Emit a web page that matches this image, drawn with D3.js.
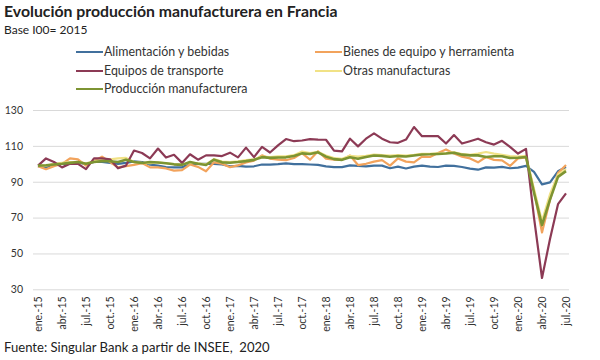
<!DOCTYPE html>
<html><head><meta charset="utf-8">
<script src="https://cdn.jsdelivr.net/npm/d3@7"></script>
<style>
body{margin:0;background:#fff;}
svg{font-family:Lato,"Open Sans",sans-serif;}
</style></head><body>
<script>
const monthNames = ["ene.","feb.","mar.","abr.","may.","jun.","jul.","ago.","sep.","oct.","nov.","dic."];
const years = [15,16,17,18,19,20];
const categories = [];
years.forEach(y => monthNames.forEach(m => categories.push(m + "-" + y)));
categories.splice(67);

const alimentacion = [98.7,98,100,100,100,100.6,100,101,101,100.5,100,100.5,101.3,101,99.5,99,98.2,98,98,100,100,100,100,99.6,98.6,98.8,98.4,98.6,99.6,99.5,99.8,100.2,99.8,99.8,99.6,99.4,98.6,98.1,98.1,99.1,98.8,98.6,99,99,97.5,98.4,97.4,98.4,99,98.4,98.2,99,98.8,98.2,97.3,96.7,98,97.9,98.3,97.5,97.9,98.8,95.5,88.5,89.6,95.8,98.2];
const bienesEquipo = [98.7,97,98.7,100,103,102.5,99,101.5,104,101,98,98.7,99.4,100.4,98,98,97.4,96.2,96.5,99.6,98.3,95.8,100.8,100,98.1,99.1,100.7,101.8,104.7,102.9,102.3,102,103.2,106,102.3,107,102.9,102.3,102.2,104.6,99.3,100,101.2,102,99,103,101.2,100.8,104,103.8,106,108,105.7,104,103,100.8,103.8,102.2,101.9,98.8,103,103.6,85,61.7,80,94.8,99.3];
const transporte = [99,103,101,98,100,100,97,103,103,102.5,97.5,99,107.4,106,103,108.5,103.5,105,100.5,105.3,102.3,104.7,104.7,104.3,106.2,103.6,109,103.7,109.4,106.3,110.3,113.8,112.6,113,113.8,113.5,113.4,107.3,106.9,114,109.7,114,117,114,112,111.7,113.5,120.5,115.4,115.4,115.4,111.3,116,111.3,112.6,114,112,110.7,112.8,109.4,105.7,108.3,70,36.3,58,77.5,83.5];
const otras = [99,99,100,100.5,101,101,100.3,101.3,102,102.5,103,103.3,101,100.5,100.3,100.8,100.3,99.8,99.6,100.6,100.3,99.7,102.6,101.2,101,101.4,102,102.5,104,103.7,104.2,104.2,104.8,106.8,106,106.6,104.6,103.2,102.8,104.5,104,104.5,105.1,104.8,104.6,104.8,104.6,105,105.5,105.6,105.8,106,106.4,105.4,105,105.7,106.6,105.7,105,104.3,104,104.5,86,68,83,94,97];
const produccion = [99,99.2,99.6,100,100.5,101,100,101,101.5,101.4,101,102.3,101,100.4,101,100.7,100.3,99.7,99.4,101,100,99.3,102.3,100.8,100.6,101,101.5,102.2,103.7,103.3,103.5,103.6,104.3,105.8,105.5,106.4,104,102.6,102.2,103.6,102.8,103.8,104.6,104.4,103.9,104.3,104.1,104.6,105.2,105.3,105.5,105.7,106.2,105.1,104.7,104.7,103.8,104.2,104.2,103.2,103.4,103.8,84,65.8,80,92.7,95.9];
const yTicks = [30,50,70,90,110,130];
const yTickLabels = ["30","50","70","90","110","130"];

const series = [
  {name:"Alimentación y bebidas", values:alimentacion, color:"#41709d", w:2.2},
  {name:"Bienes de equipo y herramienta", values:bienesEquipo, color:"#f2a35c", w:2.2},
  {name:"Equipos de transporte", values:transporte, color:"#8c3a55", w:2.2},
  {name:"Otras manufacturas", values:otras, color:"#f1e286", w:2.2},
  {name:"Producción manufacturera", values:produccion, color:"#7d9432", w:2.6}
];
const drawOrder = [0,1,3,2,4];

const W = 600, H = 360;
const svg = d3.select("body").append("svg").attr("width",W).attr("height",H);

const x = d3.scalePoint().domain(categories).range([38,566]);
const y = d3.scaleLinear().domain([30,130]).range([289.3,110]);

svg.append("text").attr("x",4).attr("y",17).attr("font-size",15.8).attr("font-weight",700)
  .attr("fill","#222").text("Evolución producción manufacturera en Francia");
svg.append("text").attr("x",4).attr("y",34).attr("font-size",12).attr("fill","#222").text("Base I00= 2015");

// legend
const legendPos = [[76,52],[315,52],[76,71],[315,71],[76,89]];
series.forEach((s,i)=>{
  const [lx,ly] = legendPos[i];
  svg.append("line").attr("x1",lx).attr("x2",lx+27).attr("y1",ly).attr("y2",ly)
    .attr("stroke",s.color).attr("stroke-width",2);
  svg.append("text").attr("x",lx+28).attr("y",ly+4).attr("font-size",12.4).attr("fill","#333").text(s.name);
});

// grid
const yAxis = d3.axisLeft(y).tickValues(yTicks).tickSize(-(569-33)).tickFormat((d,i)=>yTickLabels[i]);
const gy = svg.append("g").attr("transform","translate(33,0)").call(yAxis);
gy.select(".domain").remove();
gy.selectAll(".tick line").attr("stroke","#d9d9d9").attr("stroke-width",1);
gy.selectAll(".tick text").attr("x",-10).attr("font-size",10.5).attr("fill","#333").attr("font-family","Lato,sans-serif");

// x axis
const tickCats = categories.filter((c,i)=>i%3===0);
const xAxis = d3.axisBottom(x).tickValues(tickCats).tickSize(0);
const gx = svg.append("g").attr("transform","translate(0,289.3)").call(xAxis);
gx.select(".domain").remove();
gx.selectAll(".tick text").attr("transform","rotate(-90)").attr("text-anchor","end")
  .attr("x",-7).attr("y",0).attr("dy","0.35em").attr("font-size",10.5).attr("fill","#333")
  .attr("font-family","Lato,sans-serif");

// lines
const line = d3.line().x((d,i)=>x(categories[i])).y(d=>y(d));
drawOrder.forEach(k=>{
  const s = series[k];
  svg.append("path").datum(s.values).attr("d",line).attr("fill","none")
    .attr("stroke",s.color).attr("stroke-width",s.w).attr("stroke-linejoin","round");
});

svg.append("text").attr("x",4).attr("y",352).attr("font-size",13.1).attr("fill","#222")
  .attr("xml:space","preserve").text("Fuente: Singular Bank a partir de INSEE,  2020");
</script>
</body></html>
